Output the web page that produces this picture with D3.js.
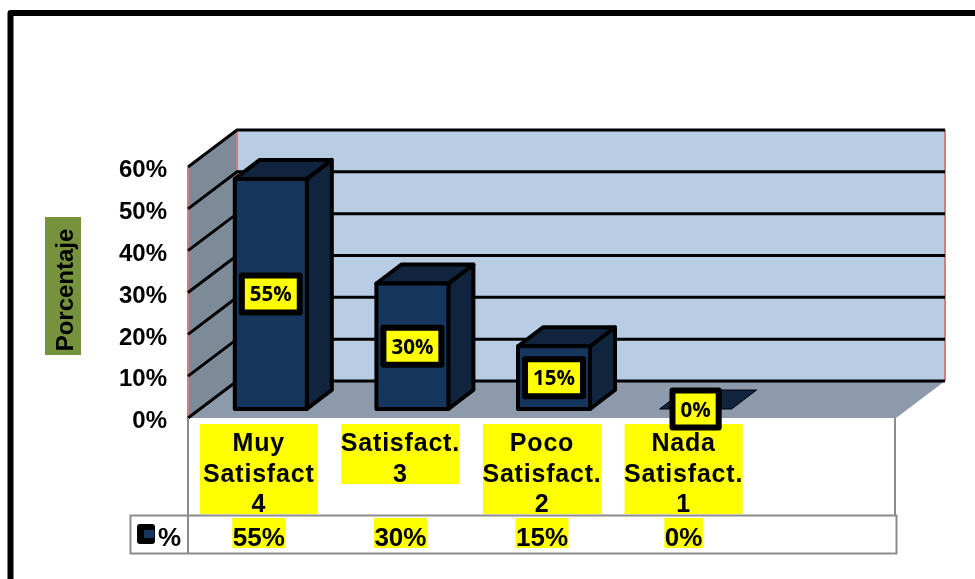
<!DOCTYPE html>
<meta charset="utf-8">
<style>
  body { margin: 0; background: #fff; }
  /* the original is a slightly soft bitmap */
  svg { display: block; font-family: "Liberation Sans", Arial, sans-serif; font-weight: bold; filter: blur(0.4px); }
</style>
<div id="chart"></div>
<script src="https://d3js.org/d3.v7.min.js"></script>
<script>

// data (the empty fifth column is in the original too)
var categories = ["Muy Satisfact 4", "Satisfact. 3", "Poco Satisfact. 2", "Nada Satisfact. 1", ""];
var categoryLines = [["Muy", "Satisfact", "4"], ["Satisfact.", "3"], ["Poco", "Satisfact.", "2"], ["Nada", "Satisfact.", "1"], []];
var values = [55, 30, 15, 0];
var yTicks = [0, 10, 20, 30, 40, 50, 60];
var axisTitle = "Porcentaje";
var seriesName = "%";

var width = 975, height = 579;

var svg = d3.select("#chart").append("svg")
    .attr("width", width)
    .attr("height", height);

var x = d3.scaleBand().domain(categories).range([188, 896]);
var y = d3.scaleLinear().domain([0, 60]).range([418, 167]);

// 3d offset between the front and back of the box
var depthX = 49, depthY = -37;
var barWidth = 72;
var barFrontX = 12, barFrontY = -9;
var barDepthX = 25, barDepthY = -19;

var pct = function(d) { return d + "%"; };
var poly = function(pts) { return pts.map(function(p) { return p.join(","); }).join(" "); };

// outer frame, runs off the page at right and bottom
svg.append("rect")
    .attr("x", 10.5).attr("y", 13)
    .attr("width", 1000).attr("height", 700)
    .attr("fill", "#fff")
    .attr("stroke", "#000")
    .attr("stroke-width", 6)
    .attr("stroke-linejoin", "round");

// walls and floor
var x0 = x.range()[0], x1 = x.range()[1];

svg.append("polygon")
    .attr("points", poly([[x0 + depthX, y(60) + depthY], [x1 + depthX, y(60) + depthY], [x1 + depthX, y(0) + depthY], [x0 + depthX, y(0) + depthY]]))
    .attr("fill", "#b8cce4");

svg.append("polygon")
    .attr("points", poly([[x0, y(60)], [x0 + depthX, y(60) + depthY], [x0 + depthX, y(0) + depthY], [x0, y(0)]]))
    .attr("fill", "#7d8b99");

svg.append("polygon")
    .attr("points", poly([[x0, y(0)], [x0 + depthX, y(0) + depthY], [x1 + depthX, y(0) + depthY], [x1, y(0)]]))
    .attr("fill", "#8c9aab");

// the pinkish corner lines
svg.selectAll(".corner")
    .data([[x0, y(60), y(0)], [x0 + depthX, y(60) + depthY, y(0) + depthY], [x1 + depthX, y(60) + depthY, y(0) + depthY]])
    .enter().append("line")
    .attr("class", "corner")
    .attr("x1", function(d) { return d[0]; })
    .attr("x2", function(d) { return d[0]; })
    .attr("y1", function(d) { return d[1]; })
    .attr("y2", function(d) { return d[2]; })
    .attr("stroke", "#cf7f7f")
    .attr("stroke-width", 2);

// gridlines: along the side wall then across the back
var grid = svg.append("g")
    .attr("fill", "none")
    .attr("stroke", "#000")
    .attr("stroke-width", 3);

grid.selectAll("polyline")
    .data(yTicks)
    .enter().append("polyline")
    .attr("points", function(d) {
      return poly([[x0, y(d)], [x0 + depthX, y(d) + depthY], [x1 + depthX, y(d) + depthY]]);
    });

// bars
var bars = svg.selectAll(".bar")
    .data(values)
    .enter().append("g")
    .attr("class", "bar")
    .attr("transform", function(d, i) {
      return "translate(" + (x(categories[i]) + (x.bandwidth() - barWidth) / 2 + barFrontX) + "," + barFrontY + ")";
    })
    .attr("stroke", "#000")
    .attr("stroke-width", 4)
    .attr("stroke-linejoin", "round");

// side face
bars.filter(function(d) { return d > 0; }).append("polygon")
    .attr("points", function(d) {
      return poly([[barWidth, y(d)], [barWidth + barDepthX, y(d) + barDepthY], [barWidth + barDepthX, y(0) + barDepthY], [barWidth, y(0)]]);
    })
    .attr("fill", "#10243e");

// top face
bars.append("polygon")
    .attr("points", function(d) {
      return poly([[0, y(d)], [barDepthX, y(d) + barDepthY], [barWidth + barDepthX, y(d) + barDepthY], [barWidth, y(d)]]);
    })
    .attr("fill", "#10243e")
    .attr("stroke-width", function(d) { return d > 0 ? 4 : 1; });

// front face
bars.filter(function(d) { return d > 0; }).append("rect")
    .attr("y", function(d) { return y(d); })
    .attr("width", barWidth)
    .attr("height", function(d) { return y(0) - y(d); })
    .attr("fill", "#17365d");

// y axis labels
var yAxis = svg.append("g")
    .attr("transform", "translate(167,2)")
    .call(d3.axisLeft(y).tickValues(yTicks).tickSize(0).tickPadding(0).tickFormat(pct));
yAxis.select(".domain").remove();
yAxis.selectAll("text")
    .attr("fill", "#000")
    .attr("font-family", "Liberation Sans")
    .attr("font-size", 24)
    .attr("font-weight", "bold");

// axis title
svg.append("rect")
    .attr("x", 45).attr("y", 217)
    .attr("width", 36).attr("height", 138)
    .attr("fill", "#76923c");

svg.append("text")
    .attr("transform", "translate(73,290) rotate(-90)")
    .attr("text-anchor", "middle")
    .attr("font-size", 24)
    .text(axisTitle);

// category labels with their yellow backing
var catLabel = svg.selectAll(".cat")
    .data(categories.filter(function(d) { return d !== ""; }))
    .enter().append("g")
    .attr("class", "cat")
    .attr("transform", function(d) { return "translate(" + (x(d) + x.bandwidth() / 2) + ",0)"; });

catLabel.append("rect")
    .attr("x", -59)
    .attr("y", 424)
    .attr("width", 118)
    .attr("height", function(d, i) { return categoryLines[i].length === 3 ? 90 : 60; })
    .attr("fill", "#ffff00");

catLabel.each(function(d, i) {
  d3.select(this).selectAll("text")
      .data(categoryLines[i])
      .enter().append("text")
      .attr("y", function(t, j) { return 451 + j * 30.5; })
      .attr("text-anchor", "middle")
      .attr("font-size", 25)
      .attr("letter-spacing", 0.8)
      .text(function(t) { return t; });
});

// data table under the chart
var table = svg.append("g")
    .attr("fill", "none")
    .attr("stroke", "#8c8c8c")
    .attr("stroke-width", 2);

table.append("rect")
    .attr("x", 130.5).attr("y", 515.5)
    .attr("width", x1 - 130).attr("height", 38);

table.append("line")
    .attr("x1", x0).attr("x2", x0)
    .attr("y1", y(0)).attr("y2", 554);

table.append("line")
    .attr("x1", x1 - 1).attr("x2", x1 - 1)
    .attr("y1", y(0)).attr("y2", 515);

var valueCell = svg.selectAll(".cell")
    .data(values)
    .enter().append("g")
    .attr("class", "cell")
    .attr("transform", function(d, i) { return "translate(" + (x(categories[i]) + x.bandwidth() / 2) + ",0)"; });

var valueBack = valueCell.append("rect")
    .attr("y", 518)
    .attr("height", 30)
    .attr("fill", "#ffff00");

var valueText = valueCell.append("text")
    .attr("y", 546)
    .attr("text-anchor", "middle")
    .attr("font-size", 26)
    .text(function(d) { return pct(d); });

valueBack.each(function(d, i) {
  var w = valueText.nodes()[i].getComputedTextLength() + 1;
  d3.select(this).attr("x", -w / 2).attr("width", w);
});

// legend key in the table
svg.append("rect")
    .attr("x", 137).attr("y", 524)
    .attr("width", 18).attr("height", 20)
    .attr("rx", 3)
    .attr("fill", "#000");
svg.append("rect")
    .attr("x", 144).attr("y", 530)
    .attr("width", 10).attr("height", 8)
    .attr("fill", "#17365d");
svg.append("text")
    .attr("x", 158).attr("y", 546)
    .attr("font-size", 26)
    .text(seriesName);

// value labels on the bars
var dataLabel = svg.selectAll(".dlabel")
    .data(values)
    .enter().append("g")
    .attr("class", "dlabel")
    .attr("transform", function(d, i) {
      var cx = x(categories[i]) + x.bandwidth() / 2 + barFrontX;
      return "translate(" + cx + "," + ((y(d) + y(0)) / 2 + barFrontY) + ")";
    });

var dataBox = dataLabel.append("rect")
    .attr("fill", "#ffff00")
    .attr("stroke", "#000")
    .attr("stroke-width", 6)
    .attr("stroke-linejoin", "round")
    .attr("y", -18.5)
    .attr("height", 37);

var dataText = dataLabel.append("text")
    .attr("y", 7.5)
    .attr("text-anchor", "middle")
    .attr("font-family", "Open Sans")
    .attr("font-size", 20.5)
    .text(function(d) { return pct(d); });

dataBox.each(function(d, i) {
  var w = dataText.nodes()[i].getComputedTextLength() + 16;
  d3.select(this).attr("x", -w / 2).attr("width", w);
});

</script>
